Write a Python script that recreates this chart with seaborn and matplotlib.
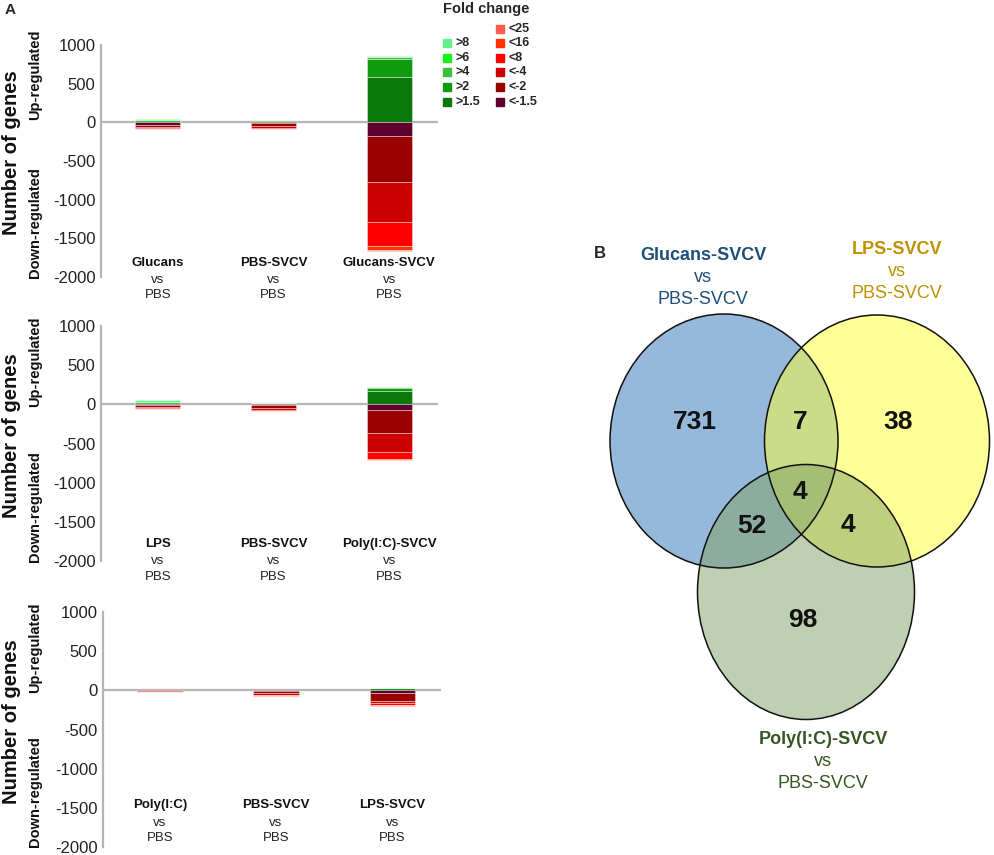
import matplotlib
matplotlib.use("Agg")
import matplotlib.pyplot as plt
from matplotlib.patches import Rectangle, Ellipse
import numpy as np
import seaborn as sns

# ------------------------------------------------------------------ #
# data

up_levels = [">1.5", ">2", ">4", ">6", ">8"]
down_levels = ["<-1.5", "<-2", "<-4", "<8", "<16", "<25"]
up_colors = ["#0A780A", "#109A10", "#3CC03C", "#1AF01A", "#66F08C"]
down_colors = ["#5E0030", "#990000", "#CC0000", "#FF0000", "#FF3300", "#FF5A50"]

top_groups = ["Glucans", "PBS-SVCV", "Glucans-SVCV"]
top_up = [[0, 5, 25, 0, 15], [10, 12, 3, 0, 0], [580, 245, 15, 5, 15]]
top_down = [[35, 30, 10, 5, 0, 5], [5, 40, 25, 10, 0, 5], [175, 595, 515, 315, 50, 15]]

mid_groups = ["LPS", "PBS-SVCV", "Poly(I:C)-SVCV"]
mid_up = [[0, 10, 25, 0, 20], [8, 12, 2, 0, 0], [175, 30, 10, 0, 10]]
mid_down = [[5, 30, 10, 10, 0, 0], [5, 40, 25, 10, 0, 5], [75, 285, 250, 85, 10, 0]]

bot_groups = ["Poly(I:C)", "PBS-SVCV", "LPS-SVCV"]
bot_up = [[0, 0, 0, 0, 0], [0, 3, 0, 0, 0], [10, 20, 0, 0, 0]]
bot_down = [[0, 10, 10, 5, 0, 0], [5, 35, 15, 10, 0, 5], [30, 110, 25, 20, 5, 5]]

venn_sets = ["Glucans-SVCV", "LPS-SVCV", "Poly(I:C)-SVCV"]
venn_colors = ["#1F4E79", "#BF9000", "#375623"]
venn_regions = ["G", "GL", "L", "GP", "GLP", "LP", "P"]
venn_counts = [731, 7, 38, 52, 4, 4, 98]

# ------------------------------------------------------------------ #

sns.set_theme(style="white")
plt.rcParams["font.family"] = ["Liberation Sans", "DejaVu Sans"]
plt.rcParams["axes.unicode_minus"] = False

W, H = 995, 855
fig = plt.figure(figsize=(W / 100, H / 100), dpi=100)


def px_axes(left, top, right, bottom):
    return fig.add_axes([left / W, 1 - bottom / H, (right - left) / W, (bottom - top) / H])


def fig_text(x, y, s, **kw):
    fig.text(x / W, 1 - y / H, s, **kw)


def draw_panel(ax, groups, up, down, label_y):
    x = np.arange(len(groups))
    width = 0.39
    up = np.array(up)
    down = np.array(down)
    base = np.zeros(len(groups))
    for i, lev in enumerate(up_levels):
        ax.bar(x, up[:, i], width, bottom=base, color=up_colors[i],
               edgecolor=(1, 1, 1, 0.45), linewidth=0.6, zorder=2)
        base = base + up[:, i]
    base = np.zeros(len(groups))
    for i, lev in enumerate(down_levels):
        ax.bar(x, -down[:, i], width, bottom=base, color=down_colors[i],
               edgecolor=(1, 1, 1, 0.45), linewidth=0.6, zorder=2)
        base = base - down[:, i]
    ax.axhline(0, color="#B5B5B5", lw=1.6, zorder=1)
    ax.set_xlim(-0.49, 2.42)
    ax.set_ylim(-2000, 1000)
    ax.set_yticks([1000, 500, 0, -500, -1000, -1500, -2000])
    ax.set_xticks([])
    ax.tick_params(axis="y", length=0, pad=4, labelsize=12, labelcolor="#222222")
    sns.despine(ax=ax, top=True, right=True, bottom=True)
    ax.spines["left"].set_color("#B5B5B5")
    ax.spines["left"].set_linewidth(1.6)
    ax.set_facecolor("none")
    tr = ax.get_xaxis_transform()
    for xi, g in zip(x, groups):
        ax.text(xi, label_y[0], g, transform=tr, ha="center", va="center",
                fontsize=9.5, fontweight="bold", color="#111111", clip_on=False)
        ax.text(xi, label_y[1], "vs", transform=tr, ha="center", va="center",
                fontsize=9.5, color="#222222", clip_on=False)
        ax.text(xi, label_y[2], "PBS", transform=tr, ha="center", va="center",
                fontsize=9.5, color="#222222", clip_on=False)


ax1 = px_axes(101, 45, 438, 277)
draw_panel(ax1, top_groups, top_up, top_down, [0.060, -0.013, -0.078])
ax2 = px_axes(101, 326, 438, 561)
draw_panel(ax2, mid_groups, mid_up, mid_down, [0.072, 0.0, -0.068])
ax3 = px_axes(103, 612, 441, 847)
draw_panel(ax3, bot_groups, bot_up, bot_down, [0.179, 0.102, 0.038])

# y labels
for cy, uy, dy in [(153, 75, 223), (436, 362, 507), (722, 648, 792)]:
    fig_text(12, cy, "Number of genes", rotation=90, ha="center", va="center",
             fontsize=14.5, fontweight="bold", color="#111111")
    fig_text(35, uy, "Up-regulated", rotation=90, ha="center", va="center",
             fontsize=10.5, fontweight="bold", color="#111111")
    fig_text(35, dy, "Down-regulated", rotation=90, ha="center", va="center",
             fontsize=10.5, fontweight="bold", color="#111111")

# legend
fig_text(486, 9, "Fold change", ha="center", va="center", fontsize=10.5, fontweight="bold")
sq = 8
green_rows = [43, 58, 72, 87, 102]
red_rows = [29, 43, 58, 72, 87, 102]
for i, y in enumerate(green_rows):
    lev = len(up_levels) - 1 - i
    fig.add_artist(Rectangle(((447 - sq / 2) / W, 1 - (y + sq / 2) / H), sq / W, sq / H,
                             transform=fig.transFigure, color=up_colors[lev]))
    fig_text(456, y, up_levels[lev], ha="left", va="center", fontsize=9, fontweight="bold")
for i, y in enumerate(red_rows):
    lev = len(down_levels) - 1 - i
    fig.add_artist(Rectangle(((500 - sq / 2) / W, 1 - (y + sq / 2) / H), sq / W, sq / H,
                             transform=fig.transFigure, color=down_colors[lev]))
    fig_text(509, y, down_levels[lev], ha="left", va="center", fontsize=9, fontweight="bold")

fig_text(10, 10, "A", ha="center", va="center", fontsize=11, fontweight="bold")
fig_text(600, 253, "B", ha="center", va="center", fontsize=12, fontweight="bold")

# ------------------------------------------------------------------ #
# venn diagram (pixel coordinates)
vax = fig.add_axes([0, 0, 1, 1])
vax.set_xlim(0, W)
vax.set_ylim(H, 0)
vax.axis("off")
vax.set_facecolor("none")

circles = [((724, 441), 228, 254, "#2F75B9"),
           ((877, 441), 225, 252, "#FFFF33"),
           ((806, 592), 217, 255, "#81A165")]
for (c, w, h, col) in circles:
    vax.add_patch(Ellipse(c, w, h, facecolor=col, alpha=0.5, edgecolor="none"))
for (c, w, h, col) in circles:
    vax.add_patch(Ellipse(c, w, h, fill=False, edgecolor="#111111", lw=1.1))

region_pos = {"G": (695, 422), "GL": (800, 422), "L": (898, 422), "GP": (752, 526),
              "GLP": (800, 492), "LP": (848, 525), "P": (803, 620)}
for r, n in zip(venn_regions, venn_counts):
    vax.text(*region_pos[r], str(n), ha="center", va="center", fontsize=19,
             fontweight="bold", color="#111111")

set_label_pos = [(703, 255), (897, 249), (823, 739)]
for (lx, ly), name, col in zip(set_label_pos, venn_sets, venn_colors):
    vax.text(lx, ly, name, ha="center", va="center", fontsize=13, fontweight="bold", color=col)
    vax.text(lx, ly + 22, "vs", ha="center", va="center", fontsize=13, color=col)
    vax.text(lx, ly + 44, "PBS-SVCV", ha="center", va="center", fontsize=13, color=col)

fig.savefig("out.png", dpi=100)
